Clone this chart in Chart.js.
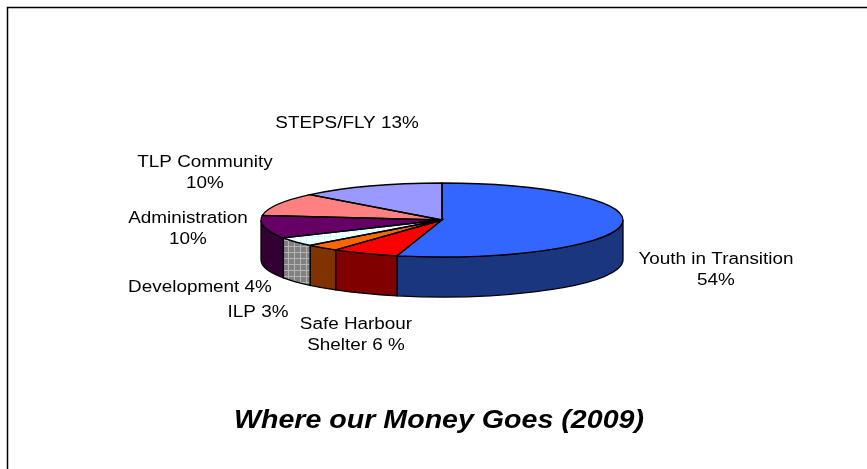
<!DOCTYPE html>
<html>
<head>
<meta charset="utf-8">
<script src="https://cdn.jsdelivr.net/npm/chart.js@4.4.1/dist/chart.umd.min.js"></script>
<style>
  html, body { margin: 0; padding: 0; background: #fff; }
  canvas { display: block; }
</style>
</head>
<body>
<canvas id="pieChart" width="867" height="469"></canvas>
<script>
// data
const categories = ['Youth in Transition', 'Safe Harbour Shelter', 'ILP', 'Development', 'Administration', 'TLP Community', 'STEPS/FLY'];
const shares = [54, 6, 3, 4, 10, 10, 13];
const labelLines = [
    ['Youth in Transition', '54%'],
    ['Safe Harbour', 'Shelter 6 %'],
    ['ILP 3%'],
    ['Development 4%'],
    ['Administration', '10%'],
    ['TLP Community', '10%'],
    ['STEPS/FLY 13%']
];
const chartTitle = 'Where our Money Goes (2009)';

// styles
const topColors = ['#3366FF', '#FF0000', '#FF6600', 'pattern', '#660066', '#FF8080', '#9999FF'];
const sideColors = ['#1A367F', '#800000', '#803300', 'pattern', '#330033', '#804040', '#4D4D80'];
const labelPos = [[716, 264], [356, 329], [258, 317], [200, 292], [188, 223], [205, 167], [347, 128]];
const squash = 37 / 181;
const depth = 40;

function makePattern(bg, fg, cell) {
    const c = document.createElement('canvas');
    c.width = cell; c.height = cell;
    const g = c.getContext('2d');
    g.fillStyle = bg; g.fillRect(0, 0, cell, cell);
    g.fillStyle = fg;
    g.fillRect(0, 0, cell, 1);
    g.fillRect(0, 0, 1, cell);
    return g.createPattern(c, 'repeat');
}

const ctx = document.getElementById('pieChart').getContext('2d');
const devTop = makePattern('#FFFFFF', '#CCFFFF', 6);
const devSide = makePattern('#808080', '#B4B4B4', 6);
const fills = topColors.map(c => c === 'pattern' ? devTop : c);
const sides = sideColors.map(c => c === 'pattern' ? devSide : c);

const pie3d = {
    id: 'pie3d',
    beforeDatasetsDraw(chart) {
        const c = chart.ctx;
        const arcs = chart.getDatasetMeta(0).data;
        const cx = arcs[0].x, cy = arcs[0].y, r = arcs[0].outerRadius, ry = r * squash;
        c.save();
        c.lineWidth = 1.3;
        c.strokeStyle = '#000';
        arcs.forEach((arc, i) => {
            const s = Math.max(arc.startAngle, 0);
            const e = Math.min(arc.endAngle, Math.PI);
            if (e <= s) return;
            c.beginPath();
            c.ellipse(cx, cy, r, ry, 0, s, e);
            c.lineTo(cx + r * Math.cos(e), cy + ry * Math.sin(e) + depth);
            c.ellipse(cx, cy + depth, r, ry, 0, e, s, true);
            c.closePath();
            c.fillStyle = sides[i];
            c.fill();
            c.stroke();
        });
        c.restore();
        // squash the top face drawn by Chart.js
        c.save();
        c.translate(cx, cy);
        c.scale(1, squash);
        c.translate(-cx, -cy);
    },
    afterDatasetsDraw(chart) {
        const c = chart.ctx;
        c.restore();
        const arcs = chart.getDatasetMeta(0).data;
        const cx = arcs[0].x, cy = arcs[0].y, r = arcs[0].outerRadius, ry = r * squash;
        c.save();
        c.lineWidth = 1.3;
        c.strokeStyle = '#000';
        arcs.forEach(arc => {
            c.beginPath();
            c.moveTo(cx, cy);
            c.ellipse(cx, cy, r, ry, 0, arc.startAngle, arc.endAngle);
            c.closePath();
            c.stroke();
        });
        c.restore();
    },
    afterDraw(chart) {
        const c = chart.ctx;
        c.save();
        // frame (only top and left edges fall inside the picture)
        c.lineWidth = 1.5;
        c.strokeStyle = '#000';
        c.strokeRect(7.5, 7.5, 900, 500);
        c.fillStyle = '#000';
        c.textAlign = 'center';
        c.textBaseline = 'alphabetic';
        c.font = '16px "Liberation Sans", Arial, sans-serif';
        labelLines.forEach((lines, i) => {
            const [x, y] = labelPos[i];
            lines.forEach((t, k) => {
                c.save();
                c.translate(x, y + k * 21);
                c.scale(1.18, 1);
                c.fillText(t, 0, 0);
                c.restore();
            });
        });
        c.font = 'italic bold 26px "Liberation Sans", Arial, sans-serif';
        c.translate(439, 428);
        c.scale(1.1, 1);
        c.fillText(chartTitle, 0, 0);
        c.restore();
    }
};

const pieChart = new Chart(ctx, {
    type: 'pie',
    data: {
        labels: categories,
        datasets: [{
            data: shares,
            backgroundColor: fills,
            borderWidth: 0
        }]
    },
    options: {
        responsive: false,
        animation: false,
        events: [],
        rotation: 0,
        layout: {
            padding: {
                top: 39,
                bottom: 68,
                left: 261,
                right: 244
            }
        },
        plugins: {
            legend: {
                display: false
            },
            tooltip: {
                enabled: false
            },
            title: {
                display: false
            }
        }
    },
    plugins: [pie3d]
});
</script>
</body>
</html>
